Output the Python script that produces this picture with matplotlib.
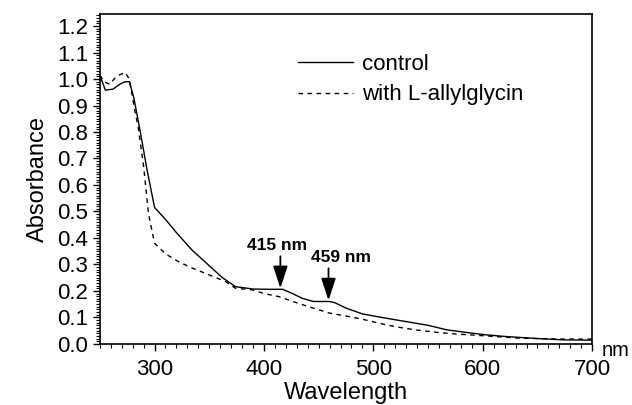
import matplotlib
matplotlib.use("Agg")
import matplotlib.pyplot as plt
from matplotlib.ticker import MultipleLocator

plt.rcParams['font.family'] = ['Liberation Sans', 'DejaVu Sans']

# control spectrum (nm, absorbance)
wl_control = [250, 255, 262, 268, 273, 277, 281, 287, 293, 300, 310, 320, 334,
              350, 362, 374, 390, 405, 417, 426, 435, 445, 460, 465, 475, 490,
              510, 530, 550, 567, 585, 603, 620, 631, 650, 674, 700]
abs_control = [1.015, 0.958, 0.962, 0.98, 0.99, 0.99, 0.93, 0.80, 0.66, 0.515,
               0.47, 0.42, 0.355, 0.295, 0.25, 0.216, 0.207, 0.206, 0.206, 0.19,
               0.172, 0.16, 0.16, 0.155, 0.135, 0.113, 0.098, 0.084, 0.07, 0.053,
               0.043, 0.034, 0.028, 0.025, 0.02, 0.015, 0.014]

# with L-allylglycin
wl_allyl = [250, 254, 259, 265, 273, 277, 282, 285, 290, 294.5, 300, 310, 322,
            335, 346, 365, 374, 389, 400, 414, 430, 445, 460, 475, 490, 505,
            521, 540, 561, 580, 603, 631, 650, 674, 700]
abs_allyl = [1.015, 0.99, 0.98, 1.01, 1.025, 1.0, 0.88, 0.82, 0.67, 0.49, 0.38,
             0.34, 0.31, 0.285, 0.267, 0.235, 0.21, 0.204, 0.19, 0.178, 0.155,
             0.135, 0.116, 0.105, 0.093, 0.078, 0.064, 0.052, 0.042, 0.036,
             0.03, 0.022, 0.02, 0.018, 0.018]

peaks = [415, 459]
peak_abs = [0.206, 0.16]
peak_labels = ['415 nm', '459 nm']
label_x = [412, 470]

fig = plt.figure(figsize=(6.32, 4.05), dpi=100)
ax = fig.add_axes([0.158, 0.151, 0.779, 0.814])

ax.plot(wl_control, abs_control, color='black', lw=1.0, label='control')
ax.plot(wl_allyl, abs_allyl, color='black', lw=1.0, ls=(0, (3.3, 3.2)),
        label='with L-allylglycin')

for p, a, lab, lx in zip(peaks, peak_abs, peak_labels, label_x):
    ax.annotate('', xy=(p, a + 0.004), xytext=(p, a + 0.125),
                arrowprops=dict(arrowstyle='-|>,head_length=0.85,head_width=0.28',
                                color='black', lw=1.3,
                                mutation_scale=16, shrinkA=0, shrinkB=0))
    ax.text(lx, a + 0.148, lab, ha='center', va='baseline', fontsize=12.5,
            fontweight='bold')

ax.set_xlim(250, 700)
ax.set_ylim(0, 1.245)
ax.xaxis.set_major_locator(MultipleLocator(100))
ax.xaxis.set_minor_locator(MultipleLocator(10))
ax.yaxis.set_major_locator(MultipleLocator(0.1))
ax.yaxis.set_minor_locator(MultipleLocator(0.01))
ax.yaxis.set_major_formatter(plt.FuncFormatter(lambda v, _: f'{v:.1f}'))
ax.tick_params(which='both', direction='out', top=False, right=False,
               labelsize=16, width=1)
ax.tick_params(which='major', length=5)
ax.tick_params(axis='x', which='major', pad=6)
ax.tick_params(axis='y', which='major', pad=3.5)
ax.tick_params(which='minor', length=3, width=0.8)
for s in ax.spines.values():
    s.set_linewidth(1.2)

ax.set_xlabel('Wavelength', fontsize=17, labelpad=1)
ax.set_ylabel('Absorbance', fontsize=17, labelpad=6)
ax.text(1.02, 0.008, 'nm', transform=ax.transAxes, fontsize=14.5,
        ha='left', va='top')

ax.legend(loc='upper left', bbox_to_anchor=(0.402, 0.88), frameon=False,
          fontsize=16, handlelength=2.5, handletextpad=0.4,
          labelspacing=0.43, borderpad=0, borderaxespad=0)

fig.savefig('out.png', dpi=100)
